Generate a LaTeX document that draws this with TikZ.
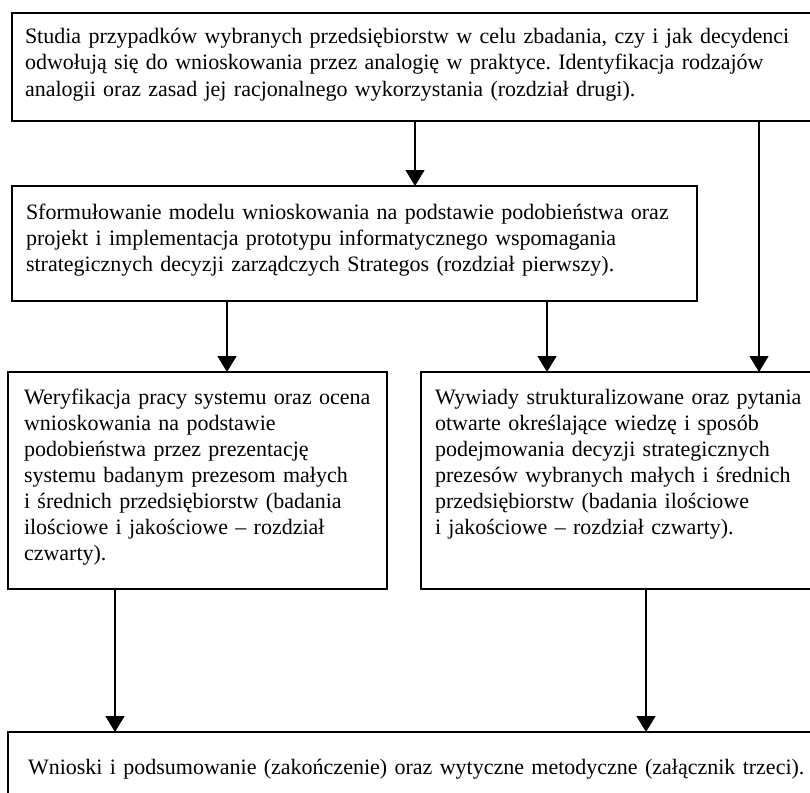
\documentclass[tikz,border=0pt]{standalone}
\usepackage{fontspec}
\setmainfont{Liberation Serif}
\usetikzlibrary{arrows.meta}
\frenchspacing
\tikzset{
  box/.style={draw=black, line width=1.3pt, inner sep=0pt, outer sep=0pt, anchor=north west},
  txt/.style={anchor=base west, inner sep=0pt, outer sep=0pt, align=left, text width=800pt,
              font=\fontsize{22}{26}\selectfont\frenchspacing},
  arr/.style={line width=1.3pt, -{Triangle[width=19pt,length=16pt]}}
}
\begin{document}
\begin{tikzpicture}[x=1pt,y=-1pt]
\useasboundingbox (0,0) rectangle (810,792);
\clip (0,0) rectangle (810,792);
\fill[white] (0,0) rectangle (810,792);

% boxes
\node[box, minimum width=803pt, minimum height=108pt] (b1) at (12,13) {};
\node[box, minimum width=685pt, minimum height=115pt] (b2) at (12,186) {};
\node[box, minimum width=379pt, minimum height=217pt] (b3) at (8,372) {};
\node[box, minimum width=394pt, minimum height=217pt] (b4) at (421,372) {};
\node[box, minimum width=807pt, minimum height=70pt] (b5) at (8,732) {};

% texts
\node[txt] (t1) at (25,44) {Studia przypadków wybranych przedsiębiorstw w celu zbadania, czy i jak decydenci\\
odwołują się do wnioskowania przez analogię w praktyce. Identyfikacja rodzajów\\
analogii oraz zasad jej racjonalnego wykorzystania (rozdział drugi).};
\node[txt] (t2) at (26,219) {Sformułowanie modelu wnioskowania na podstawie podobieństwa oraz\\
projekt i implementacja prototypu informatycznego wspomagania\\
strategicznych decyzji zarządczych Strategos (rozdział pierwszy).};
\node[txt] (t3) at (24,404) {Weryfikacja pracy systemu oraz ocena\\
wnioskowania na podstawie\\
podobieństwa przez prezentację\\
systemu badanym prezesom małych\\
i średnich przedsiębiorstw (badania\\
ilościowe i jakościowe – rozdział\\
czwarty).};
\node[txt] (t4) at (435,404) {Wywiady strukturalizowane oraz pytania\\
otwarte określające wiedzę i sposób\\
podejmowania decyzji strategicznych\\
prezesów wybranych małych i średnich\\
przedsiębiorstw (badania ilościowe\\
i jakościowe – rozdział czwarty).};
\node[txt] (t5) at (28,774) {Wnioski i podsumowanie (zakończenie) oraz wytyczne metodyczne (załącznik trzeci).};

% connector columns
\coordinate (c1) at (415,0);
\coordinate (c2) at (227,0);
\coordinate (c3) at (547,0);
\coordinate (c4) at (759,0);
\coordinate (c5) at (115,0);
\coordinate (c6) at (646,0);

\draw[arr] (b1.south -| c1) -- (b2.north -| c1);
\draw[arr] (b2.south -| c2) -- (b3.north -| c2);
\draw[arr] (b2.south -| c3) -- (b4.north -| c3);
\draw[arr] (b1.south -| c4) -- (b4.north -| c4);
\draw[arr] (b3.south -| c5) -- (b5.north -| c5);
\draw[arr] (b4.south -| c6) -- (b5.north -| c6);
\end{tikzpicture}
\end{document}
